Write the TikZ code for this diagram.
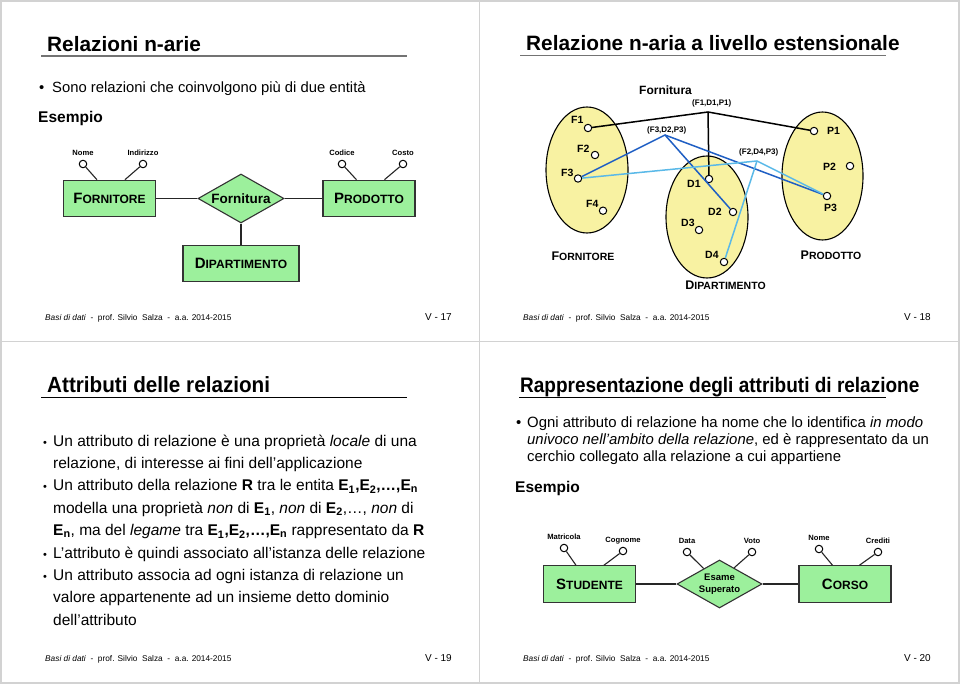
\documentclass[tikz,border=0pt]{standalone}
\usepackage{fontspec}
\setmainfont{Liberation Sans}
\usepackage{graphicx}
\usetikzlibrary{positioning,calc,shapes.geometric}
\definecolor{ergreen}{HTML}{9CF09C}
\definecolor{setyellow}{HTML}{F8F2A2}
\definecolor{tupleblue}{HTML}{1F5FC4}
\definecolor{tuplecyan}{HTML}{5AB9E8}
\definecolor{slidegray}{HTML}{D2D2D2}
\newcommand{\fsz}[1]{\fontsize{#1}{#1}\selectfont}
\newcommand{\scname}[4]{{\fsz{#1}#3}{\fsz{#2}#4}}
\newcommand{\Ebf}[1]{\textbf{E}\textsubscript{\textbf{#1}}}
\tikzset{
  entity/.style={draw=black!80, fill=ergreen, line width=1.1pt, minimum width=92pt, minimum height=36.5pt, inner sep=0pt, font=\bfseries},
  rel/.style={diamond, draw=black!80, fill=ergreen, line width=1.1pt, aspect=1.75, minimum width=86pt, minimum height=49pt, inner sep=0pt, font=\bfseries},
  attr/.style={circle, draw=black, fill=white, line width=1pt, minimum size=7.5pt, inner sep=0pt},
  attrtxt/.style={font=\fsz{7.6}\bfseries, inner sep=0pt, text depth=0pt},
  link/.style={line width=1.1pt, draw=black!85},
  eset/.style={ellipse, draw=black, fill=setyellow, line width=1.1pt, inner sep=0pt},
  elem/.style={circle, draw=black, fill=white, line width=1pt, minimum size=7.4pt, inner sep=0pt},
  elemtxt/.style={font=\fsz{10.5}\bfseries, inner sep=0pt, anchor=base west},
  tupletxt/.style={font=\fsz{8}\bfseries, inner sep=0pt, anchor=base west},
  tuple/.style={line width=1.5pt},
  titletxt/.style={font=\fsz{20.8}\bfseries, inner sep=0pt, anchor=base west},
  bodytxt/.style={inner sep=0pt, anchor=base west},
  foot/.style={font=\fsz{8.3}, inner sep=0pt, anchor=base west},
  pgno/.style={font=\fsz{10}, inner sep=0pt, anchor=base east}
}
\begin{document}
\begin{tikzpicture}[x=1pt, y=-1pt]
  \useasboundingbox (0,0) rectangle (960,684);
  \fill[white] (0,0) rectangle (960,684);
  \draw[slidegray, line width=1.5pt] (1,1) rectangle (959,683);
  \draw[slidegray, line width=1.5pt] (479.5,1) -- (479.5,683);
  \draw[slidegray, line width=1.5pt] (1,341.5) -- (959,341.5);

  % V-17 : relazioni n-arie
  \node[titletxt] (t17) at (47,52) {Relazioni n-arie};
  \draw[black!55, line width=1.7pt] (41,55.7) -- (407,55.7);
  \node[bodytxt, font=\fsz{14.8}] (b17) at (39,92.7) {•};
  \node[bodytxt, font=\fsz{14.8}] (s17) at (52,92.7) {Sono relazioni che coinvolgono più di due entità};
  \node[bodytxt, font=\fsz{15.5}\bfseries] (es17) at (38,123) {Esempio};

  \node[entity] (forn) at (109.5,198.5) {\scname{15}{12}{F}{ORNITORE}};
  \node[rel, font=\fsz{13.5}\bfseries] (fornit) at (241,198.5) {Fornitura};
  \node[entity] (prod) at (369,198.5) {\scname{15}{12}{P}{RODOTTO}};
  \node[entity, minimum width=116pt] (dip) at (241,263.5) {\scname{15}{12}{D}{IPARTIMENTO}};
  \draw[link] (forn) -- (fornit);
  \draw[link] (fornit) -- (prod);
  \draw[link] (fornit) -- (dip);

  \node[attr] (nome) at (83,164) {};
  \node[attr] (indir) at (143,164) {};
  \node[attr] (codice) at (342,164) {};
  \node[attr] (costo) at (403,164) {};
  \node[attrtxt, above=4pt of nome] (nomeT) {Nome};
  \node[attrtxt, above=4pt of indir] (indirT) {Indirizzo};
  \node[attrtxt, above=4pt of codice] (codiceT) {Codice};
  \node[attrtxt, above=4pt of costo] (costoT) {Costo};
  \draw[link] (nome) -- ([xshift=34pt]forn.north west);
  \draw[link] (indir) -- ([xshift=62pt]forn.north west);
  \draw[link] (codice) -- ([xshift=34pt]prod.north west);
  \draw[link] (costo) -- ([xshift=62pt]prod.north west);

  \node[foot] (ft17) at (45,320) {\textit{Basi di dati}\ \ -\ \ prof. Silvio\ \ Salza\ \ -\ \ a.a. 2014-2015};
  \node[pgno] (pg17) at (452,320) {V - 17};

  % V-18 : livello estensionale
  \node[titletxt] (t18) at (526,51) {Relazione n-aria a livello estensionale};
  \draw[black!55, line width=1.7pt] (520,55.5) -- (886,55.5);
  \node[bodytxt, font=\fsz{12}\bfseries] (forn18) at (639,95) {Fornitura};

  \node[eset, minimum width=82pt, minimum height=126pt] (fset) at (587,170) {};
  \node[eset, minimum width=82pt, minimum height=122pt] (dset) at (707,217) {};
  \node[eset, minimum width=81pt, minimum height=128pt] (pset) at (822.5,176) {};

  \node[elem] (f1) at (588,128) {};
  \node[elem] (f2) at (595,155) {};
  \node[elem] (f3) at (578,178.5) {};
  \node[elem] (f4) at (603,210.7) {};
  \node[elem] (d1) at (709,179) {};
  \node[elem] (d2) at (733,212) {};
  \node[elem] (d3) at (699,230) {};
  \node[elem] (d4) at (724,262) {};
  \node[elem] (p1) at (814,131) {};
  \node[elem] (p2) at (850,166) {};
  \node[elem] (p3) at (827,196) {};

  \node[elemtxt] (f1T) at (571,124) {F1};
  \node[elemtxt] (f2T) at (577,153) {F2};
  \node[elemtxt] (f3T) at (561,177) {F3};
  \node[elemtxt] (f4T) at (586,208) {F4};
  \node[elemtxt] (d1T) at (687,187.7) {D1};
  \node[elemtxt] (d2T) at (708,215.7) {D2};
  \node[elemtxt] (d3T) at (681,227) {D3};
  \node[elemtxt] (d4T) at (705,259) {D4};
  \node[elemtxt] (p1T) at (827,135) {P1};
  \node[elemtxt] (p2T) at (823,170.7) {P2};
  \node[elemtxt] (p3T) at (824,211.7) {P3};

  \coordinate (j1) at (708,112);
  \coordinate (j2) at (665,135);
  \coordinate (j3) at (757,161);
  \node[tupletxt] (j1T) at (692,106) {(F1,D1,P1)};
  \node[tupletxt] (j2T) at (647,133) {(F3,D2,P3)};
  \node[tupletxt] (j3T) at (739,155) {(F2,D4,P3)};

  \draw[tuple, black] (f1) -- (j1) -- (p1);
  \draw[tuple, black] (j1) -- (d1);
  \draw[tuple, tupleblue] (f3) -- (j2) -- (p3);
  \draw[tuple, tupleblue] (j2) -- (d2);
  \draw[tuple, tuplecyan] (f3) -- (j3) -- (p3);
  \draw[tuple, tuplecyan] (j3) -- (d4);

  \node[bodytxt, anchor=base] (fsetT) at (583,261) {\textbf{\scname{12.5}{10.5}{F}{ORNITORE}}};
  \node[bodytxt, anchor=base] (dsetT) at (725.5,290) {\textbf{\scname{12.5}{10.5}{D}{IPARTIMENTO}}};
  \node[bodytxt, anchor=base] (psetT) at (831,260) {\textbf{\scname{12.5}{10.5}{P}{RODOTTO}}};

  \node[foot] (ft18) at (523,320) {\textit{Basi di dati}\ \ -\ \ prof. Silvio\ \ Salza\ \ -\ \ a.a. 2014-2015};
  \node[pgno] (pg18) at (931,320) {V - 18};

  % V-19 : attributi delle relazioni
  \node[titletxt, font=\fsz{22}\bfseries] (t19) at (47,392.7) {\scalebox{0.94}[1]{Attributi delle relazioni}};
  \draw[black, line width=1pt] (41,397.3) -- (407,397.3);
  \begin{scope}[every node/.style={bodytxt, font=\fsz{15.5}}]
    \node (u1) at (43,446) {\fsz{11}•};
    \node (u3) at (43,490.8) {\fsz{11}•};
    \node (u6) at (43,558) {\fsz{11}•};
    \node (u7) at (43,580.4) {\fsz{11}•};
    \node (l1) at (53,446) {Un attributo di relazione è una proprietà \textit{locale} di una};
    \node (l2) at (53,468.4) {relazione, di interesse ai fini dell’applicazione};
    \node (l3) at (53,490.8) {Un attributo della relazione \textbf{R} tra le entita \Ebf{1}\textbf{,}\Ebf{2}\textbf{,…,}\Ebf{n}};
    \node (l4) at (53,513.2) {modella una proprietà \textit{non} di \Ebf{1}, \textit{non} di \Ebf{2},…, \textit{non} di};
    \node (l5) at (53,535.6) {\Ebf{n}, ma del \textit{legame} tra \Ebf{1}\textbf{,}\Ebf{2}\textbf{,…,}\Ebf{n} rappresentato da \textbf{R}};
    \node (l6) at (53,558) {L’attributo è quindi associato all’istanza delle relazione};
    \node (l7) at (53,580.4) {Un attributo associa ad ogni istanza di relazione un};
    \node (l8) at (53,602.8) {valore appartenente ad un insieme detto dominio};
    \node (l9) at (53,625.2) {dell’attributo};
  \end{scope}
  \node[foot] (ft19) at (45,661.7) {\textit{Basi di dati}\ \ -\ \ prof. Silvio\ \ Salza\ \ -\ \ a.a. 2014-2015};
  \node[pgno] (pg19) at (452,661.7) {V - 19};

  % V-20 : rappresentazione degli attributi
  \node[titletxt, font=\fsz{21}\bfseries] (t20) at (520,392.7) {\scalebox{0.905}[1]{Rappresentazione degli attributi di relazione}};
  \draw[black, line width=1pt] (519,397.3) -- (886,397.3);
  \begin{scope}[every node/.style={bodytxt, font=\fsz{14.9}}]
    \node (v1) at (516,427) {•};
    \node (m1) at (527,427) {Ogni attributo di relazione ha nome che lo identifica \textit{in modo}};
    \node (m2) at (527,444) {\textit{univoco nell’ambito della relazione}, ed è rappresentato da un};
    \node (m3) at (527,461) {cerchio collegato alla relazione a cui appartiene};
  \end{scope}
  \node[bodytxt, font=\fsz{15.5}\bfseries] (es20) at (515,492) {Esempio};

  \node[entity] (stud) at (589.5,584) {\scname{15}{12}{S}{TUDENTE}};
  \node[rel, aspect=1.77, minimum width=85pt, minimum height=48pt, font=\fsz{9.5}\bfseries, align=center] (esame) at (719.5,584) {Esame\\[2pt]Superato};
  \node[entity] (corso) at (845,584) {\scname{15}{12}{C}{ORSO}};
  \draw[link] (stud) -- (esame);
  \draw[link] (esame) -- (corso);

  \node[attr] (matr) at (564,548) {};
  \node[attr] (cogn) at (623,551) {};
  \node[attr] (data) at (687,552) {};
  \node[attr] (voto) at (752,552) {};
  \node[attr] (cnome) at (819,549) {};
  \node[attr] (cred) at (878,552) {};
  \node[attrtxt, above=4pt of matr] (matrT) {Matricola};
  \node[attrtxt, above=4pt of cogn] (cognT) {Cognome};
  \node[attrtxt, above=4pt of data] (dataT) {Data};
  \node[attrtxt, above=4pt of voto] (votoT) {Voto};
  \node[attrtxt, above=4pt of cnome] (cnomeT) {Nome};
  \node[attrtxt, above=4pt of cred] (credT) {Crediti};
  \draw[link] (matr) -- ([xshift=33pt]stud.north west);
  \draw[link] (cogn) -- ([xshift=61pt]stud.north west);
  \draw[link] (data) -- ($(esame.west)!0.63!(esame.north)$);
  \draw[link] (voto) -- ($(esame.north)!0.34!(esame.east)$);
  \draw[link] (cnome) -- ([xshift=34pt]corso.north west);
  \draw[link] (cred) -- ([xshift=61pt]corso.north west);

  \node[foot] (ft20) at (523,661.7) {\textit{Basi di dati}\ \ -\ \ prof. Silvio\ \ Salza\ \ -\ \ a.a. 2014-2015};
  \node[pgno] (pg20) at (931,661.7) {V - 20};
\end{tikzpicture}
\end{document}
